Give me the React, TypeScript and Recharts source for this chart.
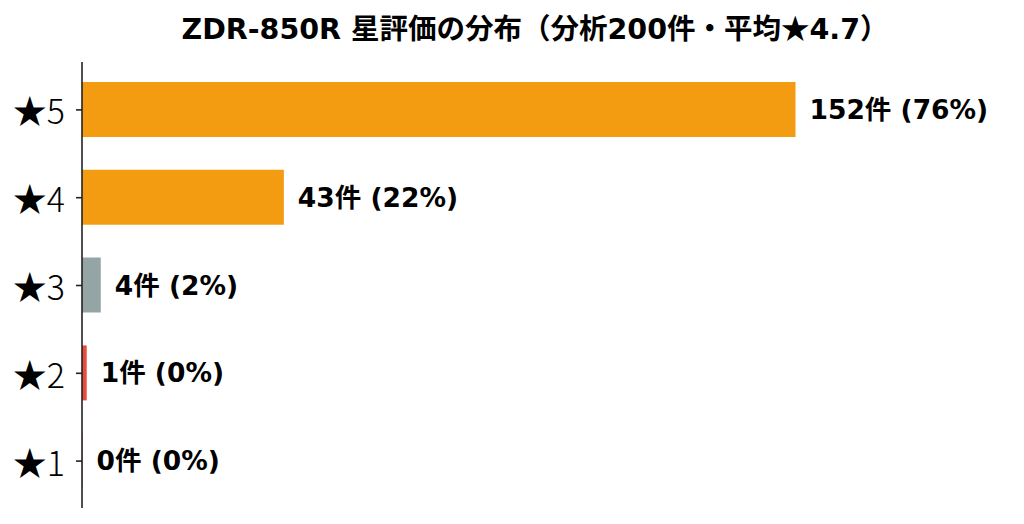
import React from "react";
import { BarChart, Bar, XAxis, YAxis, Cell, LabelList } from "recharts";

const categories = ["★5", "★4", "★3", "★2", "★1"];
const counts = [152, 43, 4, 1, 0];
const percents = [76, 22, 2, 0, 0];
const colors = ["#F39C12", "#F39C12", "#95A5A6", "#E74C3C", "#E74C3C"];
const title = "ZDR-850R 星評価の分布（分析200件・平均★4.7）";

const data = categories.map((name, i) => ({
  name,
  count: counts[i],
  label: `${counts[i]}件 (${percents[i]}%)`,
}));

const BOLD_FONT = '"DejaVu Sans", "Noto Sans CJK JP", sans-serif';
const CJK_FONT = '"Noto Sans CJK JP", sans-serif';
const TICK_FONT = '"Noto Sans CJK JP", "Noto Sans", sans-serif';

const YTick = (props: any) => {
  const { y, payload } = props;
  return (
    <text
      x={65}
      y={y}
      textAnchor="end"
      dominantBaseline="central"
      fontFamily={TICK_FONT}
      fontWeight={300}
      fontSize={34}
      fill="#000"
    >
      {payload.value}
    </text>
  );
};

const ValueLabel = (props: any) => {
  const { x, y, width, height, index } = props;
  return (
    <text
      x={Number(x) + Number(width) + 14}
      y={Number(y) + Number(height) / 2}
      textAnchor="start"
      dominantBaseline="central"
      fontFamily={BOLD_FONT}
      fontWeight={700}
      fontSize={26.5}
      fill="#000"
    >
      {data[index].label}
    </text>
  );
};

const titleParts = title.split("★");

export default function App() {
  return (
    <div style={{ position: "absolute", left: 0, top: 0, width: 1024, height: 524, background: "#fff" }}>
      <svg width={1024} height={524} style={{ position: "absolute", left: 0, top: 0 }}>
        <text
          x={535}
          y={38.5}
          textAnchor="middle"
          fontFamily={BOLD_FONT}
          fontWeight={700}
          fontSize={28.5}
          fill="#000"
        >
          {titleParts.map((part, i) => (
            <React.Fragment key={i}>
              {i > 0 && <tspan fontFamily={CJK_FONT}>★</tspan>}
              <tspan>{part}</tspan>
            </React.Fragment>
          ))}
        </text>
      </svg>
      <div style={{ position: "absolute", left: 0, top: 0 }}>
        <BarChart
          width={1024}
          height={524}
          data={data}
          layout="vertical"
          margin={{ top: 62, right: 36, bottom: 16, left: 0 }}
        >
          <XAxis type="number" domain={[0, 193]} hide />
          <Bar dataKey="count" barSize={55} minPointSize={0.5} isAnimationActive={false}>
            {data.map((d, i) => (
              <Cell key={d.name} fill={colors[i]} />
            ))}
            <LabelList dataKey="count" content={<ValueLabel />} />
          </Bar>
          <YAxis
            type="category"
            dataKey="name"
            width={82}
            padding={{ top: 4, bottom: 3 }}
            axisLine={{ stroke: "#222", strokeWidth: 1.6 }}
            tickLine={{ stroke: "#222", strokeWidth: 1.6 }}
            tickSize={6}
            tick={<YTick />}
          />
        </BarChart>
      </div>
    </div>
  );
}
